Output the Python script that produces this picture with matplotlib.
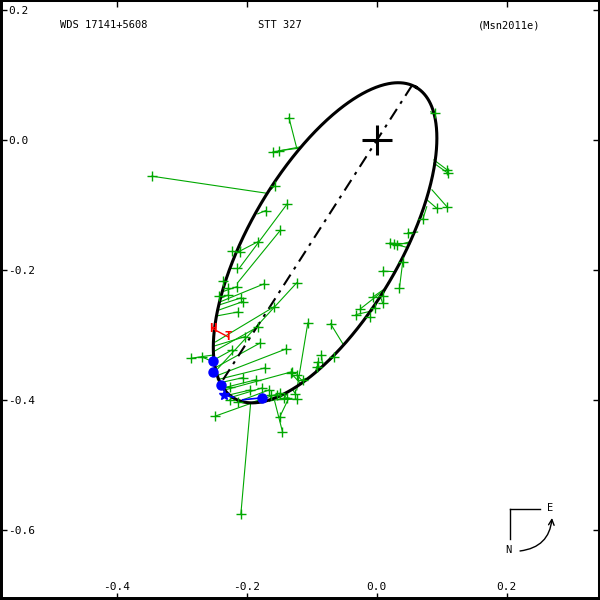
import numpy as np
import matplotlib
matplotlib.use('Agg')
import matplotlib.pyplot as plt

plt.rcParams['axes.unicode_minus'] = False
plt.rcParams['font.family'] = ['DejaVu Sans Mono']

# ---- apparent orbit (arcsec, degrees) ----
orbit_cx, orbit_cy = -0.0794, -0.1575
orbit_a, orbit_b = 0.2772, 0.1156
orbit_pa = 59.65          # direction of major axis from +x
node_angle = 57.3         # direction of line of nodes from +x (passes through primary)

# ---- observations (arcsec) ----
obs_x = [-0.346,-0.157,-0.135,-0.160,-0.151,-0.138,-0.171,-0.148,-0.183,-0.223,-0.211,-0.215,-0.237,-0.229,-0.215,-0.174,-0.123,-0.242,-0.229,-0.208,-0.206,-0.214,-0.158,-0.183,-0.203,-0.285,-0.269,-0.222,-0.180,-0.140,-0.172,-0.131,-0.206,-0.185,-0.226,-0.195,-0.177,-0.166,-0.149,-0.214,-0.226,-0.138,-0.123,-0.248,-0.209,-0.149,-0.145,
         0.020,0.026,0.040,0.009,0.035,-0.006,0.009,0.009,-0.003,-0.025,-0.032,-0.011,-0.106,-0.071,-0.085,-0.066,-0.091,-0.092,-0.132,-0.123,-0.114,-0.125,-0.142,-0.154,-0.162,0.089,0.108,0.109,0.092,0.071,0.048,0.031,0.108]
obs_y = [-0.055,-0.070,0.035,-0.018,-0.016,-0.098,-0.108,-0.138,-0.156,-0.170,-0.172,-0.196,-0.216,-0.227,-0.225,-0.221,-0.219,-0.239,-0.238,-0.242,-0.248,-0.264,-0.256,-0.287,-0.302,-0.335,-0.333,-0.322,-0.312,-0.321,-0.350,-0.356,-0.365,-0.368,-0.379,-0.384,-0.381,-0.384,-0.389,-0.402,-0.399,-0.396,-0.398,-0.424,-0.575,-0.425,-0.448,
         -0.158,-0.159,-0.187,-0.201,-0.227,-0.241,-0.239,-0.250,-0.258,-0.259,-0.268,-0.272,-0.281,-0.282,-0.330,-0.333,-0.341,-0.348,-0.358,-0.361,-0.368,-0.390,-0.396,-0.392,-0.392,0.042,-0.045,-0.050,-0.104,-0.121,-0.142,-0.161,-0.102]
calc_x = [-0.171,-0.162,-0.123,-0.118,-0.120,-0.211,-0.183,-0.214,-0.214,-0.212,-0.209,-0.226,-0.232,-0.235,-0.235,-0.240,-0.249,-0.240,-0.238,-0.242,-0.243,-0.246,-0.248,-0.251,-0.249,-0.251,-0.251,-0.251,-0.249,-0.246,-0.245,-0.234,-0.242,-0.237,-0.235,-0.229,-0.223,-0.211,-0.195,-0.212,-0.222,-0.165,-0.152,-0.195,-0.194,-0.135,-0.157,
          0.051,0.048,0.037,0.029,0.040,0.014,0.018,0.006,0.000,0.012,-0.006,-0.011,-0.123,-0.052,-0.083,-0.072,-0.088,-0.094,-0.118,-0.114,-0.109,-0.129,-0.137,-0.146,-0.165,0.083,0.088,0.088,0.078,0.077,0.063,0.051,0.085]
calc_y = [-0.081,-0.075,-0.012,-0.010,-0.012,-0.196,-0.113,-0.219,-0.172,-0.170,-0.164,-0.196,-0.216,-0.227,-0.232,-0.248,-0.356,-0.239,-0.242,-0.253,-0.261,-0.270,-0.310,-0.325,-0.316,-0.330,-0.341,-0.338,-0.350,-0.362,-0.368,-0.384,-0.373,-0.381,-0.382,-0.392,-0.395,-0.401,-0.404,-0.401,-0.396,-0.401,-0.399,-0.405,-0.405,-0.396,-0.401,
          -0.159,-0.165,-0.187,-0.202,-0.187,-0.227,-0.218,-0.241,-0.250,-0.230,-0.262,-0.270,-0.384,-0.313,-0.347,-0.338,-0.351,-0.355,-0.373,-0.370,-0.366,-0.384,-0.388,-0.393,-0.401,0.044,-0.030,-0.035,-0.092,-0.102,-0.141,-0.156,-0.076]

speckle_x = [-0.252, -0.252, -0.240, -0.177]
speckle_y = [-0.339, -0.356, -0.376, -0.396]
speckle_cx = [-0.252, -0.252, -0.240, -0.206]
speckle_cy = [-0.339, -0.356, -0.376, -0.399]
hip_x, hip_y, hip_cx, hip_cy = [-0.235], [-0.392], [-0.220], [-0.395]
red_labels = ['H', 'T']
red_x = [-0.252, -0.229]
red_y = [-0.289, -0.302]
red_cx = [-0.250, -0.246]
red_cy = [-0.291, -0.293]

xticks = [-0.4, -0.2, 0.0, 0.2]
yticks = [0.2, 0.0, -0.2, -0.4, -0.6]
xlim = (-0.5795, 0.3435)
ylim = (-0.707, 0.216)

fig = plt.figure(figsize=(6, 6), dpi=100)
ax = fig.add_axes([0, 0, 1, 1])
ax.set_xlim(*xlim)
ax.set_ylim(*ylim)

green = '#00a800'
for ox, oy, cx, cy in zip(obs_x, obs_y, calc_x, calc_y):
    ax.plot([ox, cx], [oy, cy], color=green, lw=0.8, zorder=2)

# orbit ellipse
phi = np.linspace(0, 2*np.pi, 721)
th = np.radians(orbit_pa)
ux, uy = np.cos(th), np.sin(th)
ex_ = orbit_cx + orbit_a*np.cos(phi)*ux - orbit_b*np.sin(phi)*uy
ey_ = orbit_cy + orbit_a*np.cos(phi)*uy + orbit_b*np.sin(phi)*ux
ax.plot(ex_, ey_, color='black', lw=2.2, zorder=3)

# line of nodes through the primary, clipped at the orbit
na = np.radians(node_angle)
dx, dy = np.cos(na), np.sin(na)
pu = (-orbit_cx)*ux + (-orbit_cy)*uy
pv = -(-orbit_cx)*uy + (-orbit_cy)*ux
du = dx*ux + dy*uy
dv = -dx*uy + dy*ux
qa = du**2/orbit_a**2 + dv**2/orbit_b**2
qb = 2*(pu*du/orbit_a**2 + pv*dv/orbit_b**2)
qc = pu**2/orbit_a**2 + pv**2/orbit_b**2 - 1
disc = np.sqrt(qb**2 - 4*qa*qc)
t1, t2 = (-qb + disc)/(2*qa), (-qb - disc)/(2*qa)
ax.plot([t1*dx, t2*dx], [t1*dy, t2*dy], color='black', lw=1.5, dashes=(6, 3, 1.5, 3), zorder=3)

ax.plot(obs_x, obs_y, '+', color=green, ms=7, mew=1.0, zorder=4)

for sx, sy, cx, cy in zip(speckle_x, speckle_y, speckle_cx, speckle_cy):
    ax.plot([sx, cx], [sy, cy], color='blue', lw=1.2, zorder=4)
ax.plot(speckle_x, speckle_y, 'o', color='blue', ms=6.5, zorder=5)
ax.plot([hip_x[0], hip_cx[0]], [hip_y[0], hip_cy[0]], color='blue', lw=1.2, zorder=4)
ax.plot(hip_x, hip_y, '*', color='blue', ms=8, zorder=5)
for lab, rx, ry, cx, cy in zip(red_labels, red_x, red_y, red_cx, red_cy):
    ax.plot([rx, cx], [ry, cy], color='red', lw=1.0, zorder=4)
    ax.text(rx, ry, lab, color='red', fontsize=9, fontweight='bold', ha='center', va='center', zorder=5)

# primary
ax.plot([0], [0], '+', color='black', ms=22, mew=2.2, zorder=6)

ax.set_xticks(xticks)
ax.set_yticks(yticks)
ax.set_xticklabels([f'{v:.1f}' for v in xticks])
ax.set_yticklabels([f'{v:.1f}' for v in yticks])
ax.tick_params(direction='in', length=5, width=1, top=True, right=True, labelsize=8)
ax.tick_params(axis='x', pad=-13)
ax.tick_params(axis='y', pad=-6)
plt.setp(ax.get_yticklabels(), ha='left')
for s in ['left', 'bottom']:
    ax.spines[s].set_linewidth(4.3)
for s in ['top', 'right']:
    ax.spines[s].set_linewidth(2.9)

ax.text(0.10, 1 - 25/600, 'WDS 17141+5608', transform=ax.transAxes, fontsize=7.5, ha='left', va='center')
ax.text(0.4667, 1 - 25/600, 'STT 327', transform=ax.transAxes, fontsize=7.5, ha='center', va='center')
ax.text(0.848, 1 - 25/600, '(Msn2011e)', transform=ax.transAxes, fontsize=7.5, ha='center', va='center')

# N-E orientation mark
ax.plot([0.85, 0.85], [0.1017, 0.1517], color='black', lw=1, transform=ax.transAxes)
ax.plot([0.85, 0.90], [0.1517, 0.1517], color='black', lw=1, transform=ax.transAxes)
ax.text(0.9167, 0.1533, 'E', transform=ax.transAxes, fontsize=7.5, ha='center', va='center')
ax.text(0.8467, 0.0833, 'N', transform=ax.transAxes, fontsize=7.5, ha='center', va='center')
ax.annotate('', xy=(0.92, 0.1367), xycoords='axes fraction', xytext=(0.8667, 0.0817),
            textcoords='axes fraction',
            arrowprops=dict(arrowstyle='->', lw=1, color='black', connectionstyle='arc3,rad=0.4',
                            shrinkA=0, shrinkB=0))

fig.savefig('out.png', dpi=100)
